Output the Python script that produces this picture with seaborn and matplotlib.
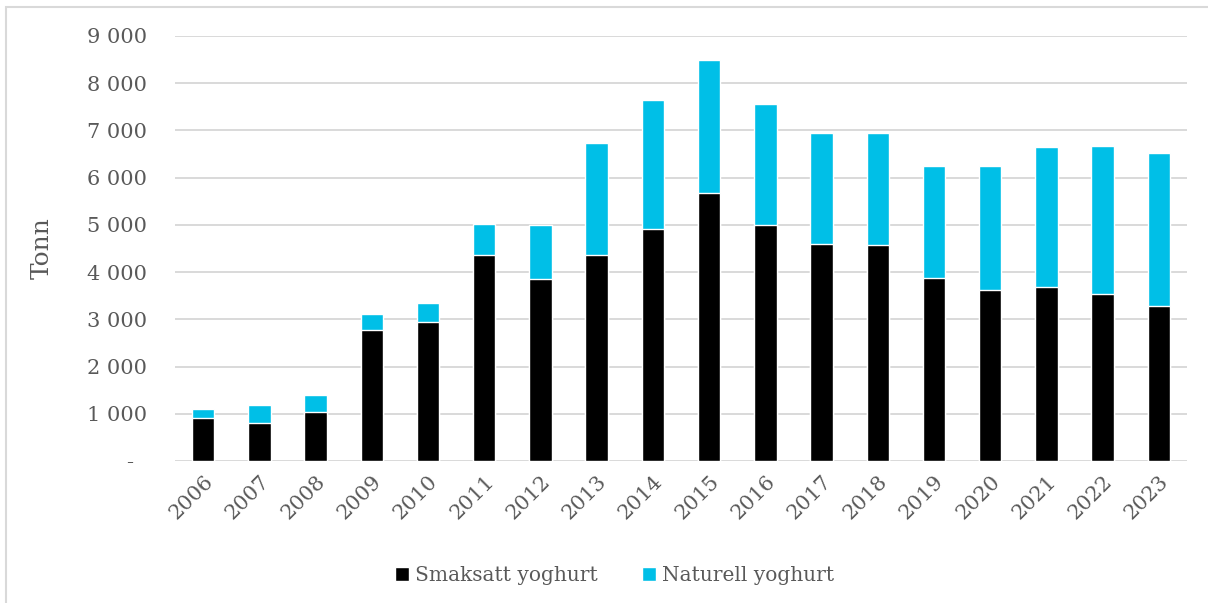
import matplotlib
matplotlib.use('Agg')
import matplotlib.pyplot as plt
import seaborn as sns
import pandas as pd
from matplotlib.ticker import FuncFormatter, MultipleLocator
from matplotlib.patches import Patch, Rectangle

# Data (tonn)
aar = ['2006', '2007', '2008', '2009', '2010', '2011', '2012', '2013', '2014',
       '2015', '2016', '2017', '2018', '2019', '2020', '2021', '2022', '2023']
smaksatt = [917, 811, 1038, 2782, 2951, 4358, 3849, 4371, 4922,
            5684, 5000, 4604, 4569, 3870, 3630, 3693, 3545, 3277]
naturell = [185, 382, 360, 332, 396, 656, 1144, 2360, 2726,
            2805, 2564, 2352, 2380, 2380, 2620, 2960, 3136, 3241]

df = pd.DataFrame({'Aar': aar, 'Smaksatt': smaksatt, 'Naturell': naturell})
df['Totalt'] = df['Smaksatt'] + df['Naturell']

SVART = '#000000'
CYAN = '#00BFE7'
TEKST = '#595959'
GRID = '#D9D9D9'

sns.set_style('white')
plt.rcParams['font.family'] = ['DejaVu Serif']

fig = plt.figure(figsize=(12.08, 6.03), dpi=100)
ax = fig.add_axes([0.1449, 0.2355, 0.8377, 0.7048])

# stacked: total first (cyan), flavoured on top of it (black)
sns.barplot(data=df, x='Aar', y='Totalt', color=CYAN, saturation=1,
            width=0.4, ax=ax, zorder=3)
sns.barplot(data=df, x='Aar', y='Smaksatt', color=SVART, saturation=1,
            width=0.4, ax=ax, zorder=3)

ax.set_ylim(0, 9000)
ax.set_xlim(-0.5, len(aar) - 0.5)
ax.yaxis.set_major_locator(MultipleLocator(1000))
ax.yaxis.set_major_formatter(FuncFormatter(
    lambda v, _: '-  ' if v == 0 else f'{int(v):,}'.replace(',', ' ')))
ax.grid(axis='y', color=GRID, linewidth=1.4, zorder=0)
ax.set_axisbelow(True)
for s in ax.spines.values():
    s.set_visible(False)

ax.tick_params(axis='y', length=0, pad=20, labelsize=15, labelcolor=TEKST)
ax.tick_params(axis='x', length=0, pad=8, labelsize=15, labelcolor=TEKST)
plt.setp(ax.get_xticklabels(), rotation=45, ha='right', rotation_mode='anchor')

ax.set_xlabel('')
ax.set_ylabel('Tonn', fontsize=18, color=TEKST, labelpad=24)

handles = [Patch(facecolor=SVART, label='Smaksatt yoghurt'),
           Patch(facecolor=CYAN, label='Naturell yoghurt')]
fig.legend(handles=handles, loc='center', bbox_to_anchor=(0.509, 0.046),
           ncol=2, frameon=False, fontsize=14.5, labelcolor=TEKST,
           handlelength=0.7, handleheight=0.7, handletextpad=0.3,
           columnspacing=2.2)

# light frame around the chart (Excel-style)
fig.patches.append(Rectangle((6 / 1208, -0.1), 1.2, 0.1 + 1 - 7 / 603,
                             transform=fig.transFigure, fill=False,
                             edgecolor=GRID, linewidth=1.5))

fig.savefig('out.png', dpi=100)
